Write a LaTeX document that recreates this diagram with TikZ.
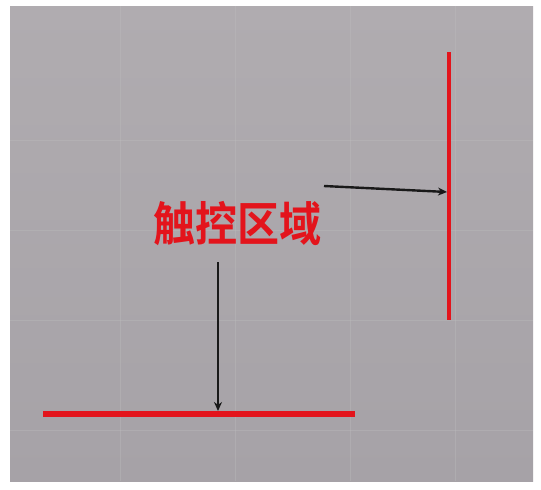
\documentclass[tikz,border=0pt]{standalone}
\usepackage{fontspec}
\newfontfamily\cjk{Noto Sans CJK SC Bold}
\usetikzlibrary{arrows.meta}
\definecolor{photo}{HTML}{A6A2A7}
\definecolor{photolight}{HTML}{B0ACB0}
\definecolor{mark}{HTML}{E3141C}
\tikzset{
  redbar/.style={draw=mark, line width=4pt},
  pointer/.style={draw=black!90, line width=2.4pt, -{Stealth[length=9pt,width=8pt]}},
  label/.style={text=mark, font=\cjk\fontsize{42}{46}\selectfont, inner sep=0pt, yscale=1.12}
}
\begin{document}
\begin{tikzpicture}[x=1pt,y=-1pt]
\useasboundingbox (0,0) rectangle (541,490);
\fill[white] (0,0) rectangle (541,490);
\shade[top color=photolight, bottom color=photo] (10,6) rectangle (533,481);
% faint grid of the paper
\foreach \x in {120,235,350,455} \draw[gray!50, line width=0.4pt, opacity=0.35] (\x,6) -- (\x,481);
\foreach \y in {140,230,320,430} \draw[gray!50, line width=0.4pt, opacity=0.35] (10,\y) -- (533,\y);
% red touch strips
\coordinate (vtop) at (449,52);
\coordinate (vbot) at (449,320);
\coordinate (hl) at (43,414);
\coordinate (hr) at (355,414);
\draw[redbar] (vtop) -- (vbot);
\draw[redbar, line width=5.5pt] (hl) -- (hr);
\node[label] (txt) at (237,224) {触控区域};
\coordinate (a1s) at (324,186);
\coordinate (a1e) at (447,192);
\coordinate (a2s) at (218,262);
\coordinate (a2e) at (218,411);
\draw[pointer] (a1s) -- (a1e);
\draw[pointer] (a2s) -- (a2e);
\end{tikzpicture}
\end{document}
